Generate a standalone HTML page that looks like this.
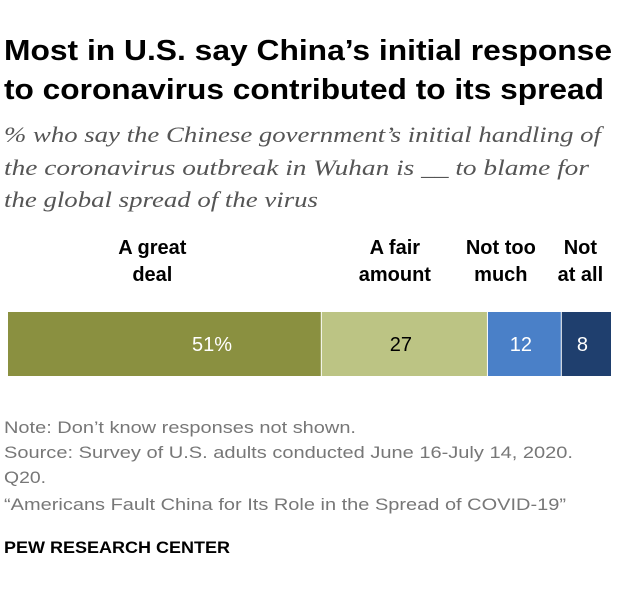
<!DOCTYPE html>
<html><head><meta charset="utf-8"><style>
html,body{margin:0;padding:0;background:#fff;}
svg{display:block;}
</style></head><body>
<svg id="chart" width="620" height="594" viewBox="0 0 620 594" xmlns="http://www.w3.org/2000/svg">
<g font-family="'Liberation Sans', sans-serif">
<text x="4" y="60" font-size="29" font-weight="bold" fill="#000" textLength="608" lengthAdjust="spacingAndGlyphs">Most in U.S. say China’s initial response</text>
<text x="4" y="99" font-size="29" font-weight="bold" fill="#000" textLength="600" lengthAdjust="spacingAndGlyphs">to coronavirus contributed to its spread</text>
<g font-family="'Liberation Serif', serif" font-style="italic" font-size="22" fill="#555">
<text x="4" y="142" textLength="597" lengthAdjust="spacingAndGlyphs">% who say the Chinese government’s initial handling of</text>
<text x="4" y="175" textLength="585" lengthAdjust="spacingAndGlyphs">the coronavirus outbreak in Wuhan is __ to blame for</text>
<text x="4" y="207" textLength="314" lengthAdjust="spacingAndGlyphs">the global spread of the virus</text>
</g>
<g id="headers" font-weight="bold" font-size="20" fill="#000" text-anchor="middle"></g>
<g id="bars"></g>
<g font-size="17" fill="#777">
<text x="4" y="433" textLength="352" lengthAdjust="spacingAndGlyphs">Note: Don’t know responses not shown.</text>
<text x="4" y="458" textLength="569" lengthAdjust="spacingAndGlyphs">Source: Survey of U.S. adults conducted June 16-July 14, 2020.</text>
<text x="4" y="483" textLength="42" lengthAdjust="spacingAndGlyphs">Q20.</text>
<text x="4" y="510" textLength="562" lengthAdjust="spacingAndGlyphs">“Americans Fault China for Its Role in the Spread of COVID-19”</text>
</g>
<text x="4" y="553" font-size="17" font-weight="bold" fill="#000" textLength="226" lengthAdjust="spacingAndGlyphs">PEW RESEARCH CENTER</text>
</g>
</svg>
<script>
const categories = ["A great deal", "A fair amount", "Not too much", "Not at all"];
const headerLine1 = ["A great", "A fair", "Not too", "Not"];
const headerLine2 = ["deal", "amount", "much", "at all"];
const values = [51, 27, 12, 8];
const valueLabels = ["51%", "27", "12", "8"];
const colors = ["#8a9040", "#bcc484", "#4a80c8", "#1f3f6e"];
const textColors = ["#fff", "#000", "#fff", "#fff"];
const NS = "http://www.w3.org/2000/svg";
const x0 = 8, x1 = 611, barY = 312, barH = 64;
const headerShift = [0, -10, -24, -6];
const total = values.reduce((a, b) => a + b, 0);
function xScale(v) { return x0 + (x1 - x0) * v / total; }
const bars = document.getElementById('bars');
const headers = document.getElementById('headers');
let cum = 0;
values.forEach((v, i) => {
  const a = xScale(cum), b = xScale(cum + v);
  cum += v;
  const r = document.createElementNS(NS, 'rect');
  r.setAttribute('x', a); r.setAttribute('y', barY);
  r.setAttribute('width', b - a - (i < values.length - 1 ? 1 : 0)); r.setAttribute('height', barH);
  r.setAttribute('fill', colors[i]);
  
  
  bars.appendChild(r);
  const cx = i === 0 ? a + (b - a) * 0.65 : (a + b) / 2 - 4;
  const t = document.createElementNS(NS, 'text');
  t.setAttribute('x', cx); t.setAttribute('y', barY + barH / 2 + 7);
  t.setAttribute('text-anchor', 'middle'); t.setAttribute('font-size', '20');
  t.setAttribute('fill', textColors[i]);
  t.textContent = valueLabels[i];
  
  
  bars.appendChild(t);
  const hx = (i === 0 ? a + (b - a) * 0.46 : (a + b) / 2) + headerShift[i];
  [headerLine1[i], headerLine2[i]].forEach((s, j) => {
    const h = document.createElementNS(NS, 'text');
    h.setAttribute('x', hx); h.setAttribute('y', 254 + j * 27);
    h.textContent = s;
    
    
    headers.appendChild(h);
  });
});
</script>
</body></html>
